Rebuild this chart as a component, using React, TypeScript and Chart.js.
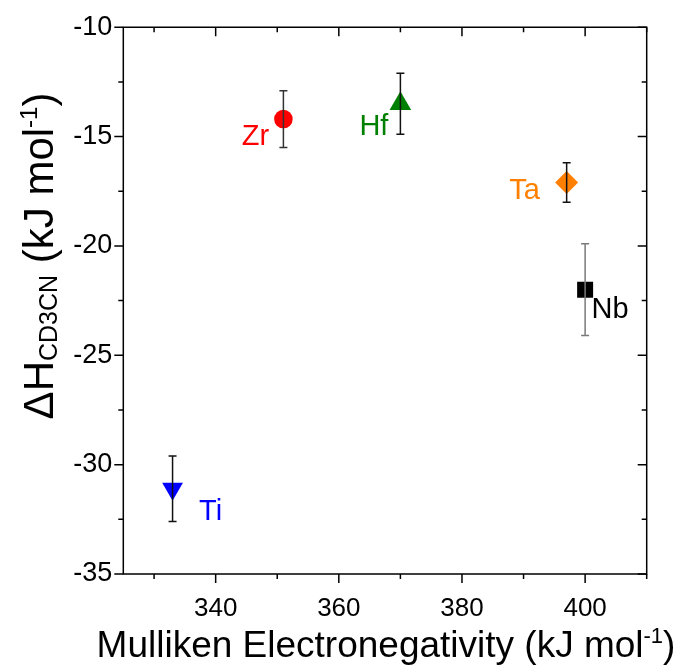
import React, { useEffect, useRef } from 'react';
import { Chart, registerables } from 'chart.js';

Chart.register(...registerables);

// ---- data ----
const elements = ['Ti', 'Zr', 'Hf', 'Ta', 'Nb'];
const electronegativity = [333, 351, 370, 397, 400];
const deltaH = [-31.1, -14.2, -13.5, -17.1, -22.0];
const deltaHErr = [1.5, 1.3, 1.4, 0.9, 2.1];

const xMajorTicks = [340, 360, 380, 400];
const xMinorTicks = [330, 350, 370, 390, 410];
const yMajorTicks = [-10, -15, -20, -25, -30, -35];
const yMinorTicks = [-12.5, -17.5, -22.5, -27.5, -32.5];
const xMin = 325;
const xMax = 410;
const yMin = -35;
const yMax = -10;

// ---- styles ----
const colors = ['#0000FF', '#FF0000', '#008000', '#FF8000', '#000000'];
const markerStyles = ['triangle', 'circle', 'triangle', 'rectRot', 'rect'];
const markerRotations = [180, 0, 0, 0, 0];
const markerRadius = [12, 9.3, 12.5, 11.5, 11.3];
const errColors = ['#111111', '#333333', '#111111', '#111111', '#7a7a7a'];
const labelOffsets = [
  [38, 23],
  [-28, 18],
  [-26.5, 23],
  [-42, 9],
  [25, 20],
];

const FONT = 'Arial, "Liberation Sans", sans-serif';
const XTITLE_SIZE = 37;
const YTITLE_SIZE = 42;
const YSUB_SIZE = 25;
const SUP_SIZE = 22;
const LABEL_SIZE = 29;
const TICK_SIZE = 26;

type Seg = { t: string; size: number; dy: number };

function drawRich(ctx: CanvasRenderingContext2D, segs: Seg[], cx: number, baseY: number) {
  let total = 0;
  const widths = segs.map((s) => {
    ctx.font = `${s.size}px ${FONT}`;
    const w = ctx.measureText(s.t).width;
    total += w;
    return w;
  });
  let x = cx - total / 2;
  ctx.textAlign = 'left';
  ctx.textBaseline = 'alphabetic';
  segs.forEach((s, i) => {
    ctx.font = `${s.size}px ${FONT}`;
    ctx.fillText(s.t, x, baseY + s.dy);
    x += widths[i];
  });
}

const overlayPlugin = {
  id: 'overlay',
  afterDatasetsDraw(chart: any) {
    const ctx: CanvasRenderingContext2D = chart.ctx;
    const xs = chart.scales.x;
    const ys = chart.scales.y;
    ctx.save();
    elements.forEach((_, i) => {
      const px = xs.getPixelForValue(electronegativity[i]);
      const pTop = ys.getPixelForValue(deltaH[i] + deltaHErr[i]);
      const pBot = ys.getPixelForValue(deltaH[i] - deltaHErr[i]);
      ctx.strokeStyle = errColors[i];
      ctx.lineWidth = 1.5;
      ctx.beginPath();
      ctx.moveTo(px, pTop);
      ctx.lineTo(px, pBot);
      ctx.moveTo(px - 4, pTop);
      ctx.lineTo(px + 4, pTop);
      ctx.moveTo(px - 4, pBot);
      ctx.lineTo(px + 4, pBot);
      ctx.stroke();
    });
    ctx.font = `${LABEL_SIZE}px ${FONT}`;
    ctx.textAlign = 'center';
    ctx.textBaseline = 'middle';
    elements.forEach((name, i) => {
      const px = xs.getPixelForValue(electronegativity[i]);
      const py = ys.getPixelForValue(deltaH[i]);
      ctx.fillStyle = colors[i];
      ctx.fillText(name, px + labelOffsets[i][0], py + labelOffsets[i][1]);
    });
    ctx.restore();
  },
  afterDraw(chart: any) {
    const ctx: CanvasRenderingContext2D = chart.ctx;
    const { left, right, top, bottom } = chart.chartArea;
    const xs = chart.scales.x;
    const ys = chart.scales.y;
    ctx.save();
    ctx.strokeStyle = '#000';
    ctx.lineWidth = 1.5;
    ctx.beginPath();
    ctx.rect(left, top, right - left, bottom - top);
    ctx.stroke();
    const MAJ = 9;
    const MIN = 5;
    ctx.beginPath();
    xMajorTicks.forEach((v) => {
      const p = xs.getPixelForValue(v);
      ctx.moveTo(p, bottom);
      ctx.lineTo(p, bottom + MAJ);
      ctx.moveTo(p, top);
      ctx.lineTo(p, top + MAJ);
    });
    xMinorTicks.forEach((v) => {
      const p = xs.getPixelForValue(v);
      ctx.moveTo(p, bottom);
      ctx.lineTo(p, bottom + MIN);
      ctx.moveTo(p, top);
      ctx.lineTo(p, top + MIN);
    });
    yMajorTicks.forEach((v) => {
      const p = ys.getPixelForValue(v);
      ctx.moveTo(left, p);
      ctx.lineTo(left - MAJ, p);
      ctx.moveTo(right, p);
      ctx.lineTo(right - MAJ, p);
    });
    yMinorTicks.forEach((v) => {
      const p = ys.getPixelForValue(v);
      ctx.moveTo(left, p);
      ctx.lineTo(left - MIN, p);
      ctx.moveTo(right, p);
      ctx.lineTo(right - MIN, p);
    });
    ctx.stroke();

    ctx.fillStyle = '#000';
    drawRich(
      ctx,
      [
        { t: 'Mulliken Electronegativity (kJ mol', size: XTITLE_SIZE, dy: 0 },
        { t: '-1', size: SUP_SIZE, dy: -14 },
        { t: ')', size: XTITLE_SIZE, dy: 0 },
      ],
      (left + right) / 2 + 1,
      657
    );
    ctx.translate(53, 256);
    ctx.rotate(-Math.PI / 2);
    drawRich(
      ctx,
      [
        { t: '\u0394H', size: YTITLE_SIZE, dy: 0 },
        { t: 'CD3CN', size: YSUB_SIZE, dy: 4 },
        { t: ' (kJ mol', size: YTITLE_SIZE, dy: 0 },
        { t: '-1', size: SUP_SIZE + 2, dy: -16 },
        { t: ')', size: YTITLE_SIZE, dy: 0 },
      ],
      0,
      0
    );
    ctx.restore();
  },
};

export default function App() {
  const ref = useRef<HTMLCanvasElement | null>(null);
  useEffect(() => {
    if (!ref.current) return;
    const chart = new Chart(ref.current, {
      type: 'scatter',
      data: {
        datasets: elements.map((name, i) => ({
          label: name,
          data: [{ x: electronegativity[i], y: deltaH[i] }],
          backgroundColor: colors[i],
          borderColor: colors[i],
          borderWidth: 0,
          pointStyle: markerStyles[i] as any,
          rotation: markerRotations[i],
          pointRadius: markerRadius[i],
          pointHoverRadius: markerRadius[i],
        })),
      },
      options: {
        responsive: false,
        animation: false,
        events: [],
        layout: { padding: { top: 24, right: 33.3, left: 0, bottom: 0 } },
        plugins: { legend: { display: false }, tooltip: { enabled: false } },
        scales: {
          x: {
            type: 'linear',
            min: xMin,
            max: xMax,
            grid: { display: false, drawTicks: false },
            border: { display: false },
            afterBuildTicks: (s: any) => {
              s.ticks = xMajorTicks.map((v) => ({ value: v }));
            },
            afterFit: (s: any) => {
              s.height = 96;
            },
            ticks: {
              autoSkip: false,
              maxRotation: 0,
              padding: 19,
              color: '#000',
              font: { family: FONT, size: TICK_SIZE },
              callback: (v: any) => String(v),
            },
          },
          y: {
            type: 'linear',
            min: yMin,
            max: yMax,
            grid: { display: false, drawTicks: false },
            border: { display: false },
            afterBuildTicks: (s: any) => {
              s.ticks = yMajorTicks.map((v) => ({ value: v }));
            },
            afterFit: (s: any) => {
              s.width = 123.3;
            },
            ticks: {
              autoSkip: false,
              padding: 11,
              color: '#000',
              font: { family: FONT, size: TICK_SIZE + 1 },
              callback: (v: any) => String(v),
            },
          },
        },
      },
      plugins: [overlayPlugin],
    });
    return () => chart.destroy();
  }, []);
  return (
    <div style={{ position: 'absolute', left: 0, top: 0, width: 680, height: 670, background: '#fff' }}>
      <canvas ref={ref} width={680} height={670} style={{ width: 680, height: 670 }} />
    </div>
  );
}
